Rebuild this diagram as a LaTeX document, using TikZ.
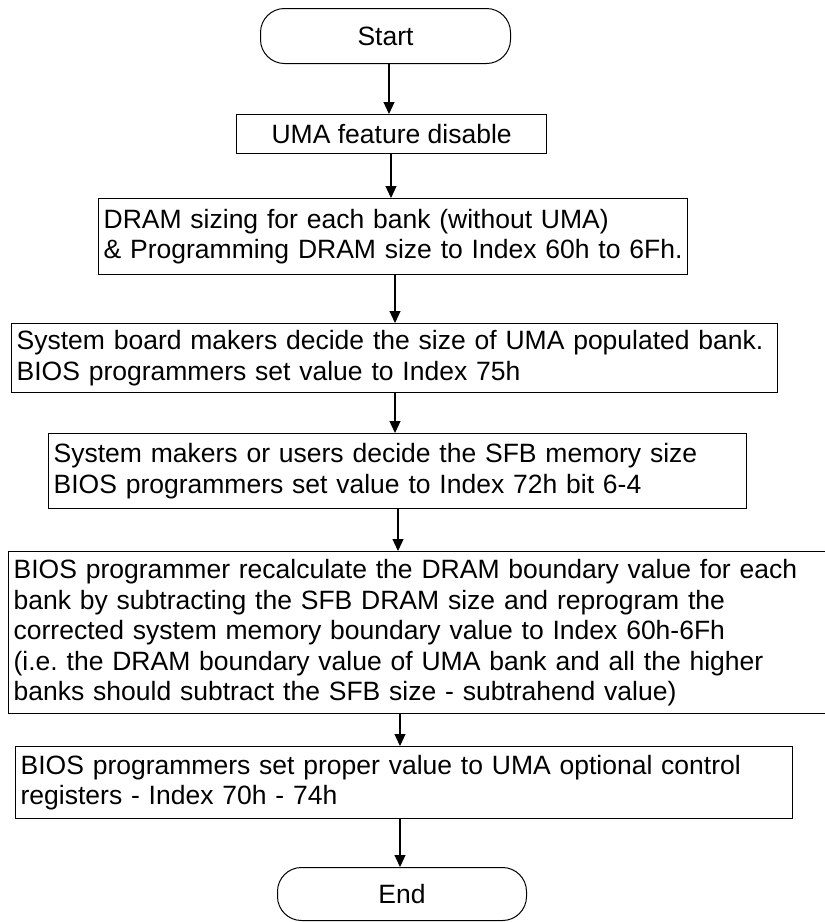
\documentclass[tikz,border=0pt]{standalone}
\usepackage{fontspec}
\setmainfont{Liberation Sans}
\usetikzlibrary{arrows.meta}
\frenchspacing
\begin{document}
\begin{tikzpicture}[x=1pt,y=-1pt,
  txt/.style={font=\fontsize{26.5}{30.5}\selectfont},
  box/.style={txt, draw, line width=1.3pt, anchor=north west, inner xsep=5pt, inner ysep=0pt, align=left},
  term/.style={txt, draw, line width=1pt, rounded corners=24pt, anchor=north west, inner sep=0pt},
  arr/.style={line width=1.2pt, -{Triangle[width=11pt,length=12pt]}}]
\useasboundingbox (0,0) rectangle (825,922);
\node[term, minimum width=250pt, minimum height=55pt] (start) at (260,8) {Start};
\node[box, minimum width=310pt, minimum height=39pt, align=center] (uma) at (236,114) {UMA feature disable};
\node[box, minimum width=589pt, minimum height=76pt, text width=579pt] (dram) at (98,198)
  {DRAM sizing for each bank (without UMA)\\ \& Programming DRAM size to Index 60h to 6Fh.};
\node[box, minimum width=766pt, minimum height=69pt, text width=756pt] (board) at (11,323)
  {System board makers decide the size of UMA populated bank.\\ BIOS programmers set value to Index 75h};
\node[box, minimum width=698pt, minimum height=75pt, text width=688pt] (sfb) at (48,433)
  {System makers or users decide the SFB memory size\\ BIOS programmers set value to Index 72h bit 6-4};
\node[box, minimum width=822pt, minimum height=162pt, text width=812pt] (recalc) at (8,551)
  {BIOS programmer recalculate the DRAM boundary value for each\\ bank by subtracting the SFB DRAM size and reprogram the\\ corrected system memory boundary value to Index 60h-6Fh\\ (i.e. the DRAM boundary value of UMA bank and all the higher\\ banks should subtract the SFB size - subtrahend value)};
\node[box, minimum width=777pt, minimum height=72pt, text width=767pt] (opt) at (15,746)
  {BIOS programmers set proper value to UMA optional control\\ registers - Index 70h - 74h};
\node[term, minimum width=249pt, minimum height=53pt] (end) at (277,867) {End};
\coordinate (c1) at (389,0);
\coordinate (c2) at (391,0);
\coordinate (c3) at (395,0);
\coordinate (c4) at (398,0);
\coordinate (c5) at (400,0);
\draw[arr] (start.south -| c1) -- (uma.north -| c1);
\draw[arr] (uma.south -| c2) -- (dram.north -| c2);
\draw[arr] (dram.south -| c3) -- (board.north -| c3);
\draw[arr] (board.south -| c3) -- (sfb.north -| c3);
\draw[arr] (sfb.south -| c4) -- (recalc.north -| c4);
\draw[arr] (recalc.south -| c5) -- (opt.north -| c5);
\draw[arr] (opt.south -| c5) -- (end.north -| c5);
\end{tikzpicture}
\end{document}
